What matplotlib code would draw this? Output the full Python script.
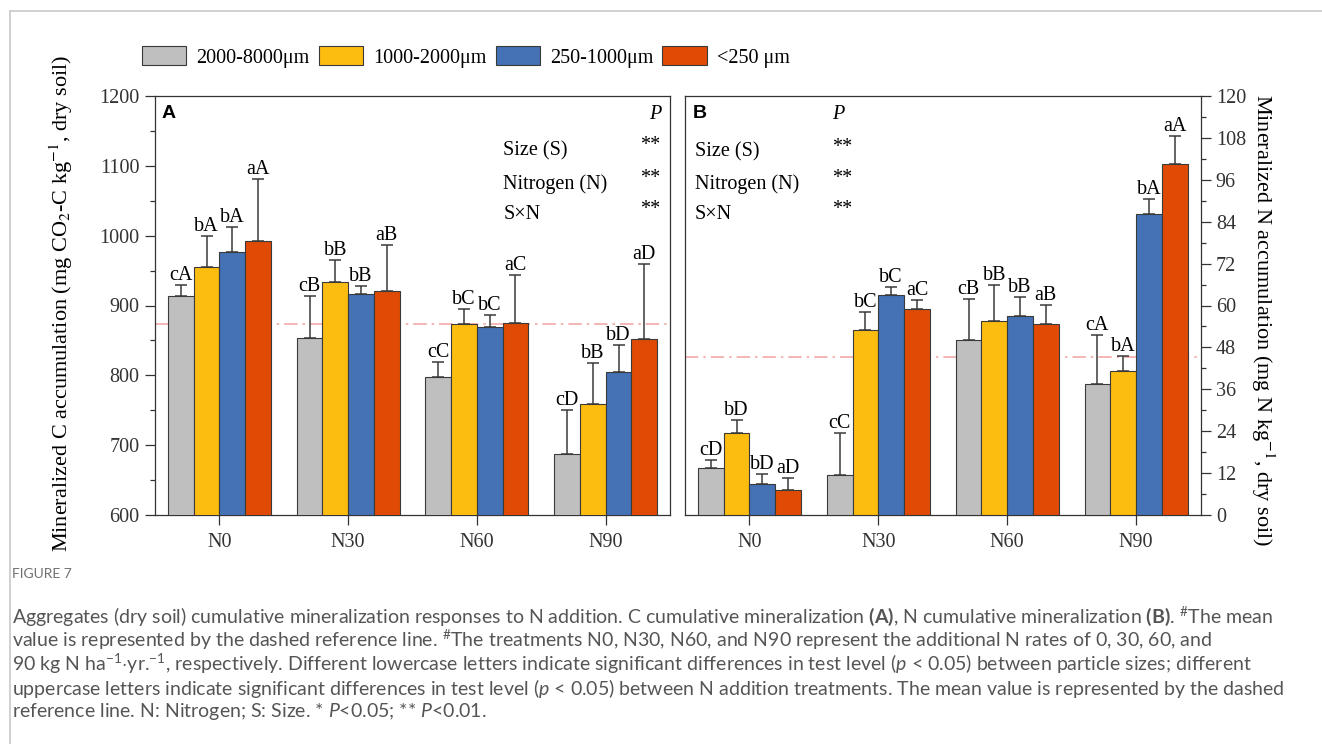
import matplotlib.pyplot as plt
import numpy as np
from matplotlib.lines import Line2D
from matplotlib.ticker import MultipleLocator

plt.rcParams['font.family'] = ['Liberation Serif', 'DejaVu Serif']
plt.rcParams['mathtext.fontset'] = 'custom'
plt.rcParams['mathtext.rm'] = 'Lato'
plt.rcParams['mathtext.it'] = 'Lato:italic'
plt.rcParams['mathtext.bf'] = 'Lato:bold'

groups = ['N0', 'N30', 'N60', 'N90']
sizes = ['2000-8000μm', '1000-2000μm', '250-1000μm', '<250 μm']
colors = ['#BFBFBF', '#FDBD10', '#4472B4', '#E04A04']

# mineralized C (mg CO2-C/kg), per size class, N0..N90
c_gray = [913, 854, 797, 688]
c_yellow = [955, 934, 874, 759]
c_blue = [976, 917, 869, 805]
c_red = [993, 921, 875, 852]
c_gray_sd = [17, 60, 22, 63]
c_yellow_sd = [45, 31, 21, 58]
c_blue_sd = [36, 11, 18, 38]
c_red_sd = [88, 65, 68, 108]
c_letters = [['cA', 'cB', 'cC', 'cD'],
             ['bA', 'bB', 'bC', 'bB'],
             ['bA', 'bB', 'bC', 'bD'],
             ['aA', 'aB', 'aC', 'aD']]

# mineralized N (mg N/kg)
n_gray = [13.6, 11.5, 50.2, 37.4]
n_yellow = [23.5, 52.9, 55.7, 41.2]
n_blue = [8.8, 62.9, 56.9, 86.2]
n_red = [7.2, 59.1, 54.6, 100.4]
n_gray_sd = [2.2, 12.1, 11.6, 14.1]
n_yellow_sd = [3.8, 5.1, 10.3, 4.4]
n_blue_sd = [2.8, 2.3, 5.5, 4.4]
n_red_sd = [3.4, 2.4, 5.5, 8.1]
n_letters = [['cD', 'cC', 'cB', 'cA'],
             ['bD', 'bC', 'bB', 'bA'],
             ['bD', 'bC', 'bB', 'bA'],
             ['aD', 'aC', 'aB', 'aA']]

stats_rows = ['Size (S)', 'Nitrogen (N)', 'S×N']
stats_marks = ['**', '**', '**']

caption_lines = [
    r'Aggregates (dry soil) cumulative mineralization responses to N addition. C cumulative mineralization $\mathbf{(A)}$, N cumulative mineralization $\mathbf{(B)}$. $^{\#}$The mean',
    r'value is represented by the dashed reference line. $^{\#}$The treatments N0, N30, N60, and N90 represent the additional N rates of 0, 30, 60, and',
    r'90 kg N ha$^{-1}$$\cdot$yr.$^{-1}$, respectively. Different lowercase letters indicate significant differences in test level ($p$ < 0.05) between particle sizes; different',
    r'uppercase letters indicate significant differences in test level ($p$ < 0.05) between N addition treatments. The mean value is represented by the dashed',
    r'reference line. N: Nitrogen; S: Size. * $P$<0.05; ** $P$<0.01.',
]

FS = 14.5
W = 0.2
x = np.arange(len(groups))


def draw_panel(ax, series, sds, letters):
    for i, (vals, sd) in enumerate(zip(series, sds)):
        xs = x + (i - 1.5) * W
        vals = np.array(vals)
        sd = np.array(sd)
        ax.errorbar(xs, vals, yerr=[np.zeros_like(sd), sd], fmt='none',
                    ecolor='#3a3a3a', elinewidth=1.1, capsize=4, capthick=1.1, zorder=2)
        ax.bar(xs, vals, W, color=colors[i], edgecolor='#3a3a3a', linewidth=0.8,
               label=sizes[i], zorder=3)
        for xi, v, s, lab in zip(xs, vals, sd, letters[i]):
            ax.annotate(lab, (xi, v + s), xytext=(0, 0), textcoords='offset points',
                        ha='center', va='bottom', fontsize=FS, zorder=4)
    allv = np.concatenate([np.array(v, dtype=float) for v in series])
    ax.axhline(allv.mean(), color='#F4A8A8', lw=1.2, ls=(0, (8, 3, 1.5, 3)), zorder=1)
    ax.set_xlim(-0.5, 3.5)
    ax.set_xticks(x)
    ax.set_xticklabels(groups, fontsize=FS)
    ax.tick_params(axis='x', which='major', direction='out', length=7, width=0.9,
                   pad=6, colors='#333')
    for sp in ax.spines.values():
        sp.set_color('#333')
        sp.set_linewidth(0.9)


fig = plt.figure(figsize=(13.22, 7.44), dpi=100)
axA = fig.add_axes([155 / 1322, 1 - 515 / 744, 515 / 1322, 419 / 744])
axB = fig.add_axes([685 / 1322, 1 - 515 / 744, 515.5 / 1322, 419 / 744])

draw_panel(axA, [c_gray, c_yellow, c_blue, c_red],
           [c_gray_sd, c_yellow_sd, c_blue_sd, c_red_sd], c_letters)
draw_panel(axB, [n_gray, n_yellow, n_blue, n_red],
           [n_gray_sd, n_yellow_sd, n_blue_sd, n_red_sd], n_letters)

# panel A axis
axA.set_ylim(600, 1200)
axA.yaxis.set_major_locator(MultipleLocator(100))
axA.yaxis.set_minor_locator(MultipleLocator(50))
axA.tick_params(axis='y', which='major', direction='out', length=7, width=0.9, pad=4,
                labelsize=FS, colors='#333', right=False)
axA.tick_params(axis='y', which='minor', direction='out', length=3.5, width=0.9, colors='#333')
axA.set_ylabel(r'Mineralized C accumulation (mg CO$_2$-C kg$^{-1}$, dry soil)',
               fontsize=16, math_fontfamily='stix')
axA.yaxis.set_label_coords(-0.155, 0.505)

# panel B axis on the right
axB.set_ylim(0, 120)
axB.yaxis.tick_right()
axB.yaxis.set_label_position('right')
axB.yaxis.set_major_locator(MultipleLocator(12))
axB.yaxis.set_minor_locator(MultipleLocator(6))
axB.tick_params(axis='y', which='major', direction='out', length=7, width=0.9, pad=4,
                labelsize=FS, colors='#333', left=False)
axB.tick_params(axis='y', which='minor', direction='out', length=3.5, width=0.9, colors='#333')
axB.set_ylabel(r'Mineralized N accumulation (mg N kg$^{-1}$, dry soil)',
               fontsize=16, rotation=270, va='center', math_fontfamily='stix')
axB.yaxis.set_label_coords(1.12, 0.465)

# panel letters and significance tables
for ax, letter, lx, px, sx, ys in [(axA, 'A', 0.013, 0.971, 0.961, [0.87, 0.79, 0.717]),
                                   (axB, 'B', 0.016, 0.297, 0.305, [0.866, 0.79, 0.716])]:
    ax.text(lx, 0.958, letter, transform=ax.transAxes, fontsize=14, fontweight='bold',
            family='Liberation Sans', ha='left', va='center')
    ax.text(px, 0.955, 'P', transform=ax.transAxes, fontsize=FS, style='italic',
            ha='center', va='center')
    tx = 0.676 if ax is axA else 0.019
    for y, row, mark in zip(ys, stats_rows, stats_marks):
        ax.text(tx, y, row, transform=ax.transAxes, fontsize=FS, ha='left', va='center')
        ax.text(sx, y + 0.012, mark, transform=ax.transAxes, fontsize=FS, ha='center', va='center')

handles, labels = axA.get_legend_handles_labels()
fig.legend(handles, labels, loc='upper left', bbox_to_anchor=(142 / 1322, 1 - 46 / 744),
           ncol=4, frameon=False, fontsize=FS, handlelength=2.2, handleheight=1.1,
           handletextpad=0.5, columnspacing=0.45, borderaxespad=0, borderpad=0)

# caption below the chart
fig.text(12 / 1322, 1 - 574 / 744, 'FIGURE 7', family='Lato', fontsize=10,
         color='#707070', va='center', ha='left')
for k, line in enumerate(caption_lines):
    fig.text(12 / 1322, 1 - (616 + 24 * k) / 744, line, family='Lato', fontsize=14,
             color='#555555', va='center', ha='left', math_fontfamily='custom')

# thin frame on the left and top
fig.add_artist(Line2D([10 / 1322, 10 / 1322], [0, 1 - 11 / 744], transform=fig.transFigure,
                      color='#C8C8C8', lw=1.2))
fig.add_artist(Line2D([10 / 1322, 1], [1 - 11 / 744, 1 - 11 / 744], transform=fig.transFigure,
                      color='#C8C8C8', lw=1.2))

fig.savefig('out.png', dpi=100)
